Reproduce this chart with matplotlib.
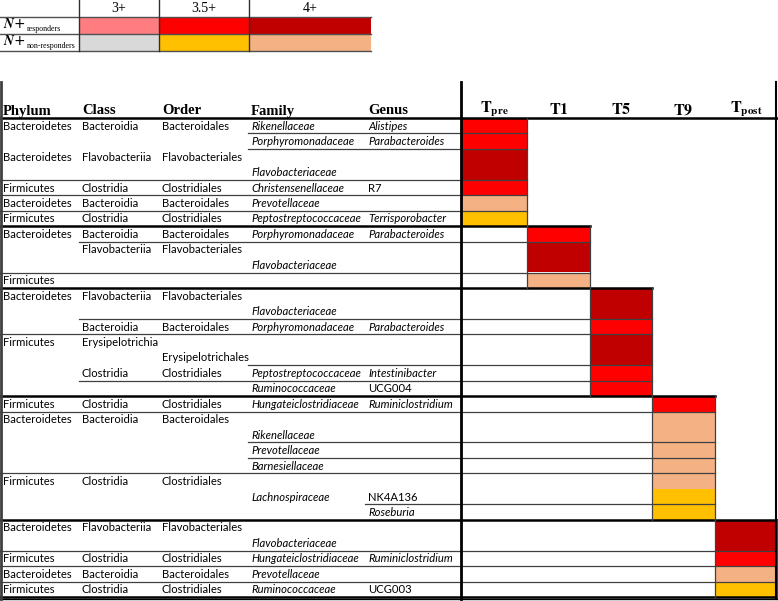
"""
Tabel met taxa die per tijdpunt significant veranderen (LDA-score klassen).
"""

import matplotlib
matplotlib.use("Agg")
import matplotlib.pyplot as plt
import matplotlib.patches as patches

plt.rcParams['mathtext.fontset'] = 'stix'

# ---- data ----
tijdpunten = ['pre', '1', '5', '9', 'post']
lda_klassen = ['3+', '3.5+', '4+']
legenda_rijen = ['responders', 'non-responders']

kleuren = {
    '3+r': '#FF7C80', '3.5+r': '#FF0000', '4+r': '#C00000',
    '3+n': '#D9D9D9', '3.5+n': '#FFC000', '4+n': '#F4B183',
}

# een regel per halve rij (eenheid); taxa staan in de eenheid waar ze getoond worden
phylum = ['Bacteroidetes', '', 'Bacteroidetes', '', 'Firmicutes', 'Bacteroidetes', 'Firmicutes',
          'Bacteroidetes', '', '', 'Firmicutes',
          'Bacteroidetes', '', '', 'Firmicutes', '', '', '',
          'Firmicutes', 'Bacteroidetes', '', '', '', 'Firmicutes', '', '',
          'Bacteroidetes', '', 'Firmicutes', 'Bacteroidetes', 'Firmicutes']
klasse = ['Bacteroidia', '', 'Flavobacteriia', '', 'Clostridia', 'Bacteroidia', 'Clostridia',
          'Bacteroidia', 'Flavobacteriia', '', '',
          'Flavobacteriia', '', 'Bacteroidia', 'Erysipelotrichia', '', 'Clostridia', '',
          'Clostridia', 'Bacteroidia', '', '', '', 'Clostridia', '', '',
          'Flavobacteriia', '', 'Clostridia', 'Bacteroidia', 'Clostridia']
orde = ['Bacteroidales', '', 'Flavobacteriales', '', 'Clostridiales', 'Bacteroidales', 'Clostridiales',
        'Bacteroidales', 'Flavobacteriales', '', '',
        'Flavobacteriales', '', 'Bacteroidales', '', 'Erysipelotrichales', 'Clostridiales', '',
        'Clostridiales', 'Bacteroidales', '', '', '', 'Clostridiales', '', '',
        'Flavobacteriales', '', 'Clostridiales', 'Bacteroidales', 'Clostridiales']
familie = ['Rikenellaceae', 'Porphyromonadaceae', '', 'Flavobacteriaceae', 'Christensenellaceae',
           'Prevotellaceae', 'Peptostreptococcaceae',
           'Porphyromonadaceae', '', 'Flavobacteriaceae', '',
           '', 'Flavobacteriaceae', 'Porphyromonadaceae', '', '', 'Peptostreptococcaceae', 'Ruminococcaceae',
           'Hungateiclostridiaceae', '', 'Rikenellaceae', 'Prevotellaceae', 'Barnesiellaceae', '',
           'Lachnospiraceae', '',
           '', 'Flavobacteriaceae', 'Hungateiclostridiaceae', 'Prevotellaceae', 'Ruminococcaceae']
genus = ['Alistipes', 'Parabacteroides', '', '', 'R7', '', 'Terrisporobacter',
         'Parabacteroides', '', '', '',
         '', '', 'Parabacteroides', '', '', 'Intestinibacter', 'UCG004',
         'Ruminiclostridium', '', '', '', '', '', 'NK4A136', 'Roseburia',
         '', '', 'Ruminiclostridium', '', 'UCG003']
tijdpunt = [0] * 7 + [1] * 4 + [2] * 7 + [3] * 8 + [4] * 5
klasse_lda = ['3.5+r', '3.5+r', '4+r', '4+r', '3.5+r', '4+n', '3.5+n',
              '3.5+r', '4+r', '4+r', '4+n',
              '4+r', '4+r', '3.5+r', '4+r', '4+r', '3.5+r', '3.5+r',
              '3.5+r', '4+n', '4+n', '4+n', '4+n', '4+n', '3.5+n', '3.5+n',
              '4+r', '4+r', '3.5+r', '4+n', '3.5+n']
# lijn onder elke eenheid: vanaf welke kolom (None = geen lijn, 'g' = groepsgrens)
lijn_vanaf = [3, 3, None, 0, 0, 0, 'g',
              1, None, 0, 'g',
              None, 1, 0, None, 3, 1, 'g',
              0, None, 3, 3, 0, None, 4, 'g',
              None, 0, 0, 0, 'g']
niet_cursief = ['R7', 'UCG004', 'NK4A136', 'UCG003']

# ---- layout ----
kol_x = [0, 79, 159, 248, 365]
t_x = [461, 527, 590, 652, 715, 777]
y0 = 118
h = 15.45
tekst_font = 'Lato'

fig = plt.figure(figsize=(7.78, 6.01), dpi=100)
ax = fig.add_axes([0, 0, 1, 1])
ax.set_xlim(0, 778)
ax.set_ylim(601, 0)
ax.axis('off')
renderer = fig.canvas.get_renderer()

# legenda tabel
leg_x = [0, 79, 159, 249, 371]
leg_y = [0, 17, 34, 51]
for j, k in enumerate(lda_klassen):
    ax.text((leg_x[j + 1] + leg_x[j + 2]) / 2, 9, k, ha='center', va='center',
            fontsize=10, family='Liberation Serif')
    for i, r in enumerate(legenda_rijen):
        c = kleuren[k + r[0]]
        ax.add_patch(patches.Rectangle((leg_x[j + 1], leg_y[i + 1]), leg_x[j + 2] - leg_x[j + 1], 17,
                                       facecolor=c, edgecolor='none'))
for i, r in enumerate(legenda_rijen):
    basis = leg_y[i + 1] + 11
    t = ax.text(3, basis, r'$\mathbfit{N}$+', ha='left', va='baseline', fontsize=10)
    bb = t.get_window_extent(renderer).transformed(ax.transData.inverted())
    ax.text(bb.x1 + 1, basis + 3, r, ha='left', va='baseline', fontsize=5.7,
            family='Liberation Serif')
for yy in leg_y[1:]:
    ax.plot([0, leg_x[-1]], [yy, yy], color='#505050', lw=1)
for xx in leg_x[1:4]:
    ax.plot([xx, xx], [0, 51], color='#303030', lw=1)

# kopregel
koppen = ['Phylum', 'Class', 'Order', 'Family', 'Genus']
for x, k in zip(kol_x, koppen):
    ax.text(x + 3, 111, k, ha='left', va='center', fontsize=10.5,
            family='Liberation Serif', weight='bold')
for j, t in enumerate(tijdpunten):
    ax.text((t_x[j] + t_x[j + 1]) / 2, 110, r'$\mathbf{T}_{\mathbf{' + t + '}}$' if len(t) > 1
            else r'$\mathbf{T' + t + '}$', ha='center', va='center', fontsize=11.5)

# gekleurde cellen
for i, (g, c) in enumerate(zip(tijdpunt, klasse_lda)):
    ax.add_patch(patches.Rectangle((t_x[g], y0 + i * h), t_x[g + 1] - t_x[g], h,
                                   facecolor=kleuren[c], edgecolor='none'))

# tekst per eenheid
for i in range(len(phylum)):
    yc = y0 + (i + 0.5) * h
    for kol, waarde in enumerate([phylum[i], klasse[i], orde[i], familie[i], genus[i]]):
        if not waarde:
            continue
        stijl = 'italic' if kol >= 3 and waarde not in niet_cursief else 'normal'
        ax.text(kol_x[kol] + 3, yc + 0.5, waarde, ha='left', va='center', fontsize=8.1,
                family=tekst_font, style=stijl)

# horizontale lijnen
ax.plot([0, 777], [y0 - 0.5, y0 - 0.5], color='black', lw=1.8)
for i, v in enumerate(lijn_vanaf):
    if v is None:
        continue
    yy = y0 + (i + 1) * h
    g = tijdpunt[i]
    if v == 'g':
        eind = t_x[min(g + 2, 5)]
        ax.plot([0, eind], [yy, yy], color='black', lw=1.8)
    else:
        ax.plot([kol_x[v], t_x[g + 1]], [yy, yy], color='#404040', lw=0.9)
ax.plot([0, 777], [y0 + 31 * h + 2.5, y0 + 31 * h + 2.5], color='black', lw=1)

# verticale lijnen
for g in range(5):
    rijen = [i for i in range(len(tijdpunt)) if tijdpunt[i] == g]
    top = y0 + rijen[0] * h
    bodem = y0 + (rijen[-1] + 1) * h
    for xx in (t_x[g], t_x[g + 1]):
        ax.plot([xx, xx], [top, bodem], color='#404040', lw=0.9)
ax.plot([1.5, 1.5], [82, 599], color='#404040', lw=2)
ax.plot([461, 461], [82, 599], color='black', lw=2)
ax.plot([776, 776], [82, 599], color='black', lw=1.5)

fig.savefig('out.png', dpi=100)
